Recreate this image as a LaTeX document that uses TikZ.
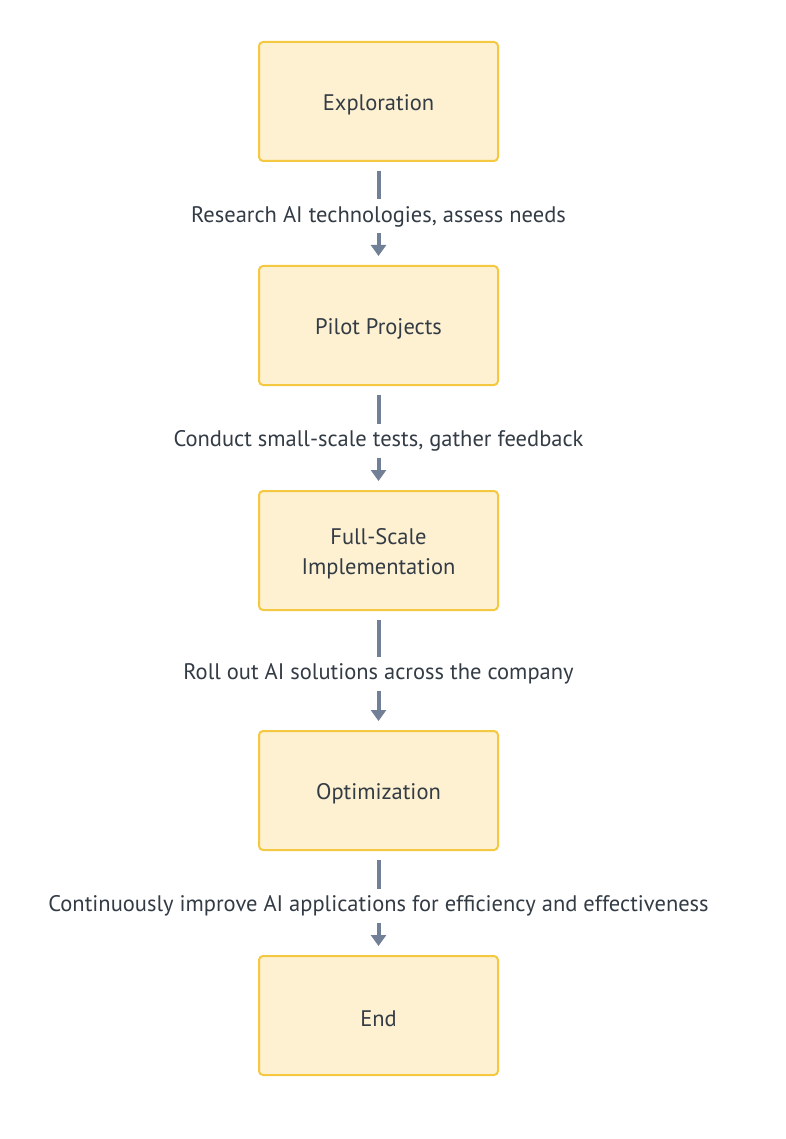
\documentclass[tikz,border=0pt]{standalone}
\usepackage{fontspec}
\setmainfont{PT Sans}
\usetikzlibrary{arrows.meta}
\definecolor{boxfill}{HTML}{FEF1D1}
\definecolor{boxline}{HTML}{F5C842}
\definecolor{arrowc}{HTML}{718096}
\definecolor{txt}{HTML}{333B45}
\begin{document}
\begin{tikzpicture}[x=1pt,y=-1pt,
  stepbox/.style={draw=boxline, fill=boxfill, line width=2pt, rounded corners=4pt,
    minimum width=239pt, minimum height=119pt, inner sep=0pt},
  steptext/.style={align=center, text=txt, font=\fontsize{22.5}{30}\selectfont, inner sep=0pt},
  conn/.style={draw=arrowc, line width=4pt, -{Triangle[length=11pt,width=15pt]}, shorten <=9pt, shorten >=9pt},
  lbl/.style={fill=white, text=txt, font=\fontsize{22.5}{30}\selectfont, inner sep=3pt, minimum height=34pt, yshift=-3pt}]
\useasboundingbox (0,0) rectangle (786,1139);
\node[stepbox] (a) at (378.5,101.5) {};
\node[stepbox] (b) at (378.5,325.5) {};
\node[stepbox] (c) at (378.5,550.5) {};
\node[stepbox] (d) at (378.5,790.5) {};
\node[stepbox] (e) at (378.5,1015.5) {};
\node[steptext] (at) at ([yshift=-3pt]a.center) {Exploration};
\node[steptext] (bt) at ([yshift=-3pt]b.center) {Pilot Projects};
\node[steptext] (ct) at ([yshift=-3pt]c.center) {Full-Scale\\Implementation};
\node[steptext] (dt) at ([yshift=-3pt]d.center) {Optimization};
\node[steptext] (et) at ([yshift=-3pt]e.center) {End};
\draw[conn] (a) -- node[lbl] {Research AI technologies, assess needs} (b);
\draw[conn] (b) -- node[lbl] {Conduct small-scale tests, gather feedback} (c);
\draw[conn] (c) -- node[lbl] {Roll out AI solutions across the company} (d);
\draw[conn] (d) -- node[lbl] {Continuously improve AI applications for efficiency and effectiveness} (e);
\end{tikzpicture}
\end{document}
